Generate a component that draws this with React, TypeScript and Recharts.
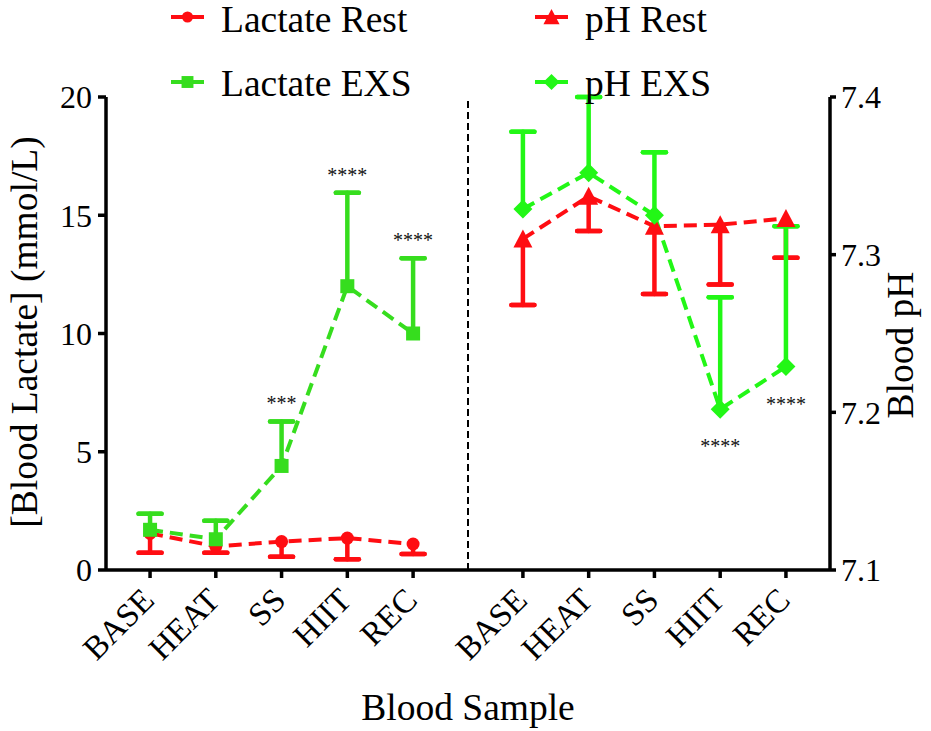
import React from 'react';
import { ComposedChart, Line, XAxis, YAxis, ErrorBar, ReferenceLine, LabelList } from 'recharts';

const FONT = '"Liberation Serif", "Times New Roman", serif';
const RED = '#ff0d12';
const GREEN_LAC = '#36dd1e';
const GREEN_PH = '#22f716';

// categories
const samples = ['BASE', 'HEAT', 'SS', 'HIIT', 'REC'];
// offset of the pH group on the shared x scale
const PH_OFFSET = 5.67;

// lactate (mmol/L), rest = error shown downwards, EXS = error upwards
const lactateRest = [1.55, 1.0, 1.2, 1.35, 1.1];
const lactateRestSD = [0.82, 0.27, 0.64, 0.9, 0.42];
const lactateExs = [1.7, 1.3, 4.4, 12.0, 10.0];
const lactateExsSD = [0.68, 0.78, 1.88, 3.95, 3.18];
const lactateStars = ['', '', '***', '****', '****'];

// blood pH
const phRest = [7.31, 7.337, 7.318, 7.319, 7.323];
const phRestSD = [0.042, 0.022, 0.043, 0.038, 0.025];
const phExs = [7.329, 7.352, 7.325, 7.202, 7.229];
const phExsSD = [0.049, 0.048, 0.04, 0.071, 0.089];
const phStars = ['', '', '', '****', '****'];

const lacTicks = [0, 5, 10, 15, 20];
const phTicks = [7.1, 7.2, 7.3, 7.4];

const lacRestData = samples.map((s, i) => ({ x: i, name: s, v: lactateRest[i], sd: lactateRestSD[i] }));
const lacExsData = samples.map((s, i) => ({
  x: i,
  name: s,
  v: lactateExs[i],
  sd: lactateExsSD[i],
  tip: lactateExs[i] + lactateExsSD[i],
  stars: lactateStars[i],
}));
const phRestData = samples.map((s, i) => ({ x: i + PH_OFFSET, name: s, v: phRest[i], sd: phRestSD[i] }));
const phExsData = samples.map((s, i) => ({
  x: i + PH_OFFSET,
  name: s,
  v: phExs[i],
  sd: phExsSD[i],
  stars: phStars[i],
}));

const xTicks = [...lacRestData.map((d) => d.x), ...phRestData.map((d) => d.x)];
const labelFor = (v: number) => samples[Math.round(v < PH_OFFSET ? v : v - PH_OFFSET)];

type Kind = 'circle' | 'square' | 'triangle' | 'diamond';

const shape = (kind: Kind, cx: number, cy: number, color: string, s = 1) => {
  if (kind === 'circle') return <circle cx={cx} cy={cy} r={6.5 * s} fill={color} />;
  if (kind === 'square') return <rect x={cx - 7 * s} y={cy - 7 * s} width={14 * s} height={14 * s} fill={color} />;
  if (kind === 'triangle')
    return (
      <polygon
        points={`${cx},${cy - 9.5 * s} ${cx + 9.5 * s},${cy + 8.5 * s} ${cx - 9.5 * s},${cy + 8.5 * s}`}
        fill={color}
      />
    );
  return (
    <polygon
      points={`${cx},${cy - 9.5 * s} ${cx + 9.5 * s},${cy} ${cx},${cy + 9.5 * s} ${cx - 9.5 * s},${cy}`}
      fill={color}
    />
  );
};

const dotFor = (kind: Kind, color: string) => (p: any) => {
  const { cx, cy, index } = p;
  if (cx == null || cy == null) return <g key={`${kind}-${index}`} />;
  return <g key={`${kind}-${index}`}>{shape(kind, cx, cy, color)}</g>;
};

const SampleTick = (props: any) => {
  const { x, y, payload } = props;
  const px = x + 6;
  const py = y + 22;
  return (
    <text
      x={px}
      y={py}
      textAnchor="end"
      transform={`rotate(-45 ${px} ${py})`}
      fontSize={33}
      fontFamily={FONT}
      fill="#000"
    >
      {labelFor(payload.value)}
    </text>
  );
};

const starsAbove = (p: any) => {
  const { x, y, value, index } = p;
  if (!value) return null;
  return (
    <text key={`sa-${index}`} x={x} y={y - 11} textAnchor="middle" fontSize={20} fontFamily={FONT} fill="#111">
      {value}
    </text>
  );
};

const starsBelow = (p: any) => {
  const { x, y, value, index } = p;
  if (!value) return null;
  return (
    <text key={`sb-${index}`} x={x} y={y + 44} textAnchor="middle" fontSize={20} fontFamily={FONT} fill="#111">
      {value}
    </text>
  );
};

const legendItems: { label: string; kind: Kind; color: string; col: number; row: number }[] = [
  { label: 'Lactate Rest', kind: 'circle', color: RED, col: 0, row: 0 },
  { label: 'Lactate EXS', kind: 'square', color: GREEN_LAC, col: 0, row: 1 },
  { label: 'pH Rest', kind: 'triangle', color: RED, col: 1, row: 0 },
  { label: 'pH EXS', kind: 'diamond', color: GREEN_PH, col: 1, row: 1 },
];

const axisLine = { stroke: '#000', strokeWidth: 3.5 };
const tickStyle = { fontSize: 32, fontFamily: FONT, fill: '#000' };
const ERR_W = 4.5;
const CAP = 11.5;

export default function App() {
  return (
    <div style={{ position: 'relative', width: 931, height: 731, background: '#fff' }}>
      <style>{`body{margin:0}`}</style>
      <ComposedChart width={931} height={731} margin={{ top: 97, right: 0, bottom: 0, left: 0 }}>
        <XAxis
          type="number"
          dataKey="x"
          domain={[-0.67, 10.34]}
          ticks={xTicks}
          allowDataOverflow
          height={161}
          tickSize={8}
          tickMargin={2}
          axisLine={axisLine}
          tickLine={axisLine}
          tick={<SampleTick />}
          interval={0}
        />
        <YAxis
          yAxisId="left"
          domain={[0, 20]}
          ticks={lacTicks}
          allowDataOverflow
          width={106}
          tickSize={8}
          tickMargin={6}
          axisLine={axisLine}
          tickLine={axisLine}
          tick={tickStyle}
          interval={0}
        />
        <YAxis
          yAxisId="right"
          orientation="right"
          domain={[7.1, 7.4]}
          ticks={phTicks}
          allowDataOverflow
          width={101}
          tickSize={6}
          tickMargin={5}
          axisLine={axisLine}
          tickLine={axisLine}
          tick={tickStyle}
          tickFormatter={(v: number) => v.toFixed(1)}
          interval={0}
        />
        <ReferenceLine
          yAxisId="left"
          x={(lacRestData[lacRestData.length - 1].x + phRestData[0].x) / 2}
          stroke="#000"
          strokeWidth={2}
          strokeDasharray="7 4"
        />

        {/* lactate */}
        <Line
          yAxisId="left"
          data={lacRestData}
          dataKey="v"
          stroke={RED}
          strokeWidth={4}
          strokeDasharray="13 7"
          dot={dotFor('circle', RED)}
          activeDot={false}
          isAnimationActive={false}
        >
          <ErrorBar dataKey={(d: any) => [d.sd, 0]} width={0} stroke={RED} strokeWidth={ERR_W} direction="y" isAnimationActive={false} />
          <ErrorBar dataKey={(d: any) => [d.sd, -d.sd]} width={CAP} stroke={RED} strokeWidth={ERR_W} strokeLinecap="round" direction="y" isAnimationActive={false} />
        </Line>
        <Line
          yAxisId="left"
          data={lacExsData}
          dataKey="v"
          stroke={GREEN_LAC}
          strokeWidth={4}
          strokeDasharray="13 7"
          dot={dotFor('square', GREEN_LAC)}
          activeDot={false}
          isAnimationActive={false}
        >
          <ErrorBar dataKey={(d: any) => [0, d.sd]} width={0} stroke={GREEN_LAC} strokeWidth={ERR_W} direction="y" isAnimationActive={false} />
          <ErrorBar dataKey={(d: any) => [-d.sd, d.sd]} width={CAP} stroke={GREEN_LAC} strokeWidth={ERR_W} strokeLinecap="round" direction="y" isAnimationActive={false} />
        </Line>
        <Line
          yAxisId="left"
          data={lacExsData}
          dataKey="tip"
          stroke="none"
          dot={false}
          activeDot={false}
          isAnimationActive={false}
        >
          <LabelList dataKey="stars" content={starsAbove} />
        </Line>

        {/* pH */}
        <Line
          yAxisId="right"
          data={phRestData}
          dataKey="v"
          stroke={RED}
          strokeWidth={4}
          strokeDasharray="13 7"
          dot={dotFor('triangle', RED)}
          activeDot={false}
          isAnimationActive={false}
        >
          <ErrorBar dataKey={(d: any) => [d.sd, 0]} width={0} stroke={RED} strokeWidth={ERR_W} direction="y" isAnimationActive={false} />
          <ErrorBar dataKey={(d: any) => [d.sd, -d.sd]} width={CAP} stroke={RED} strokeWidth={ERR_W} strokeLinecap="round" direction="y" isAnimationActive={false} />
        </Line>
        <Line
          yAxisId="right"
          data={phExsData}
          dataKey="v"
          stroke={GREEN_PH}
          strokeWidth={4}
          strokeDasharray="13 7"
          dot={dotFor('diamond', GREEN_PH)}
          activeDot={false}
          isAnimationActive={false}
        >
          <ErrorBar dataKey={(d: any) => [0, d.sd]} width={0} stroke={GREEN_PH} strokeWidth={ERR_W} direction="y" isAnimationActive={false} />
          <ErrorBar dataKey={(d: any) => [-d.sd, d.sd]} width={CAP} stroke={GREEN_PH} strokeWidth={ERR_W} strokeLinecap="round" direction="y" isAnimationActive={false} />
          <LabelList dataKey="stars" content={starsBelow} />
        </Line>
      </ComposedChart>

      {/* titles and legend */}
      <svg width={931} height={731} style={{ position: 'absolute', left: 0, top: 0, pointerEvents: 'none' }}>
        <g fontFamily={FONT} fill="#000" fontSize={37.5}>
          {legendItems.map((it) => {
            const x0 = it.col === 0 ? 171 : 535;
            const cy = it.row === 0 ? 17 : 82;
            const baseline = it.row === 0 ? 32 : 95.5;
            return (
              <g key={it.label}>
                <line x1={x0} x2={x0 + 33} y1={cy} y2={cy} stroke={it.color} strokeWidth={4} />
                {shape(it.kind, x0 + 16.5, cy, it.color, 0.85)}
                <text x={x0 + 50} y={baseline}>
                  {it.label}
                </text>
              </g>
            );
          })}
          <text x={468} y={720} textAnchor="middle">
            Blood Sample
          </text>
          <text x={37} y={332} textAnchor="middle" transform="rotate(-90 37 332)">
            [Blood Lactate] (mmol/L)
          </text>
          <text x={913} y={345} textAnchor="middle" transform="rotate(-90 913 345)">
            Blood pH
          </text>
        </g>
      </svg>
    </div>
  );
}
